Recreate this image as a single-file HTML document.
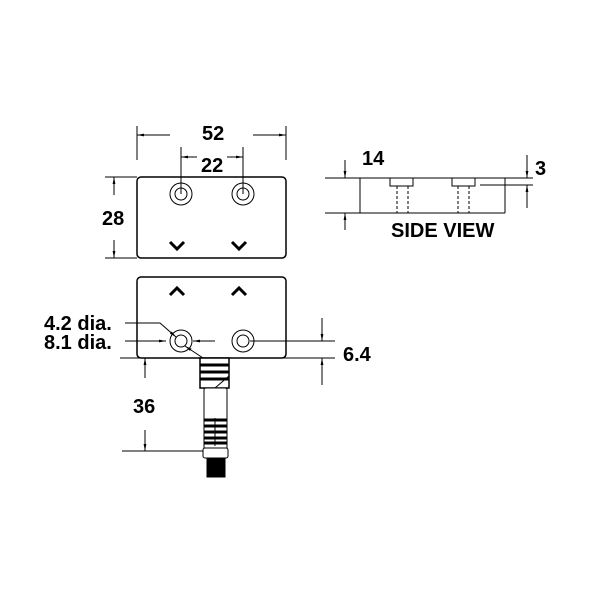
<!DOCTYPE html>
<html><head><style>body{margin:0;background:#fff}</style></head><body>
<svg width="600" height="600" viewBox="0 0 600 600" xmlns="http://www.w3.org/2000/svg" font-family="Liberation Sans, sans-serif" font-weight="bold">
<defs><marker id="a" viewBox="0 0 10 10" refX="10" refY="5" markerWidth="7" markerHeight="7" orient="auto-start-reverse"><path d="M0,3 L10,5 L0,7 z" fill="#000"/></marker></defs>
<g stroke="#000" stroke-width="1" fill="none">
<rect x="137" y="177" width="149" height="81" rx="4" stroke-width="1.5"/>
<circle cx="181" cy="194" r="11"/><circle cx="181" cy="194" r="6"/>
<circle cx="243" cy="194" r="11"/><circle cx="243" cy="194" r="6"/>
<path d="M170,242 L177,249 L184,242 M232,242 L239,249 L246,242" stroke-width="3"/>
<path d="M137,126 V160 M286,126 V160 M181,147 V194 M243,147 V194"/>
<path d="M170,135 H137" marker-end="url(#a)"/><path d="M253,135 H286" marker-end="url(#a)"/>
<path d="M197,157 H181" marker-end="url(#a)"/><path d="M227,157 H243" marker-end="url(#a)"/>
<path d="M105,177 H137 M105,258 H137"/>
<path d="M114,195 V177" marker-end="url(#a)"/><path d="M114,240 V258" marker-end="url(#a)"/>
<path d="M325,178 H505 M325,213 H505 M360,178 V213 M505,178 V213"/>
<path d="M390,178 V186 H413 V178 M452,178 V186 H475 V178"/>
<path d="M397,186 V213 M408,186 V213 M458,186 V213 M469,186 V213" stroke-dasharray="3,2"/>
<path d="M480,185 H533 M505,178 H533"/>
<path d="M345,160 V178" marker-end="url(#a)"/><path d="M345,230 V213" marker-end="url(#a)"/>
<path d="M527,155 V178" marker-end="url(#a)"/><path d="M527,208 V185" marker-end="url(#a)"/>
<rect x="137" y="277" width="149" height="81" rx="4" stroke-width="1.5"/>
<path d="M170,295 L177,288 L184,295 M232,295 L239,288 L246,295" stroke-width="3"/>
<circle cx="181" cy="341" r="11"/><circle cx="181" cy="341" r="6"/>
<circle cx="243" cy="341" r="11"/><circle cx="243" cy="341" r="6"/>
<path d="M120,358 H335 M250,341 H335"/>
<path d="M322,318 V341" marker-end="url(#a)"/><path d="M322,385 V358" marker-end="url(#a)"/>
<path d="M125,323 H160 L176,337" marker-end="url(#a)"/>
<path d="M125,341 H166" marker-end="url(#a)"/><path d="M215,341 H193" marker-end="url(#a)"/>
<path d="M203,358 L185,346" marker-end="url(#a)"/>
<path d="M122,451 H205"/>
<path d="M145,378 V358" marker-end="url(#a)"/><path d="M145,430 V451" marker-end="url(#a)"/>
<rect x="200" y="358" width="29" height="30" fill="#fff" stroke-width="1.5"/>
<path d="M200,365 H229 M200,372 H229 M200,379 H229" stroke-width="3"/>
<path d="M215,388 L229,376"/>
<rect x="204" y="388" width="23" height="62" rx="2" fill="#fff"/>
<path d="M204,420 H227 M204,426 H227 M204,432 H227 M204,438 H227 M204,443 H227" stroke-width="3"/>
<path d="M215,418 V446"/>
<rect x="203" y="448" width="25" height="10" rx="2" fill="#fff"/>
<rect x="207" y="458" width="18" height="19" fill="#000"/>
</g>
<g font-size="20" fill="#000">
<text x="202" y="140">52</text>
<text x="201" y="172">22</text>
<text x="102" y="225">28</text>
<text x="362" y="165">14</text>
<text x="535" y="175">3</text>
<text x="391" y="237">SIDE VIEW</text>
<text x="44" y="330">4.2 dia.</text>
<text x="44" y="349">8.1 dia.</text>
<text x="343" y="361">6.4</text>
<text x="133" y="413">36</text>
</g>
</svg>
</body></html>
